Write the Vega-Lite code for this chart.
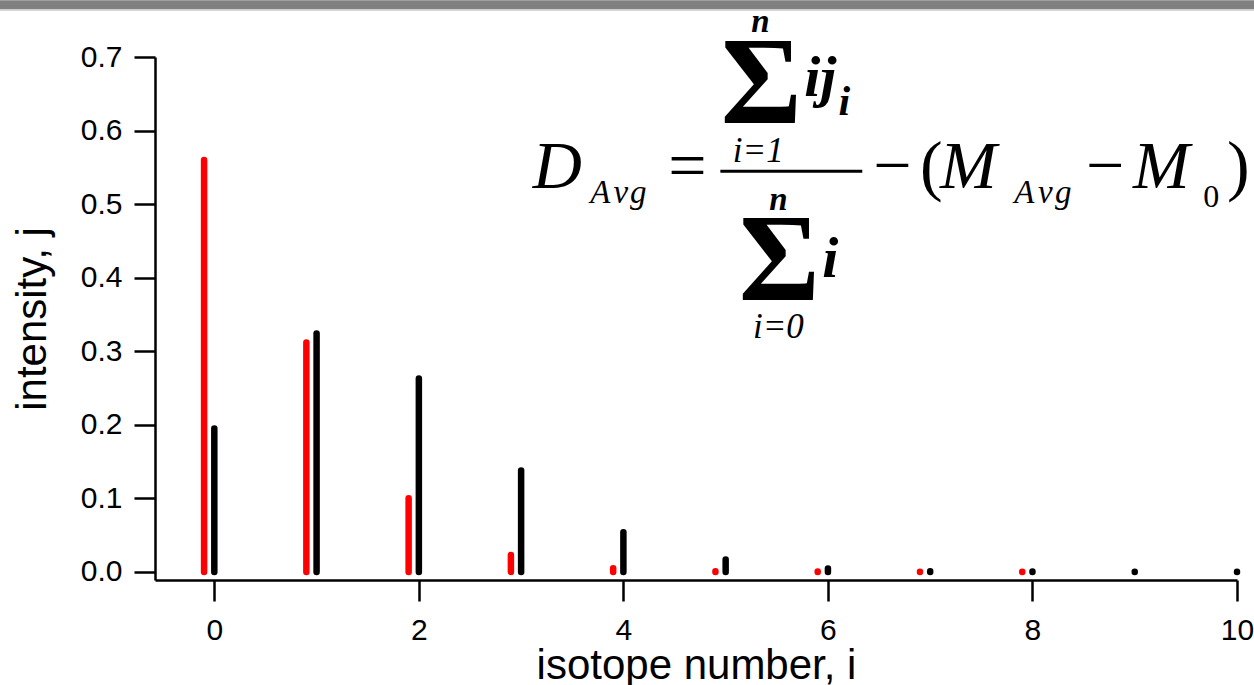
{
  "$schema": "https://vega.github.io/schema/vega-lite/v6.json",
  "width": 1082,
  "height": 523,
  "autosize": {"type": "none"},
  "padding": {"left": 155, "top": 57, "right": 17, "bottom": 105},
  "background": "white",
  "data": {"values": [{}]},
  "config": {
    "view": {"stroke": null},
    "axis": {
      "grid": false,
      "domainColor": "black",
      "domainWidth": 2.5,
      "tickColor": "black",
      "tickWidth": 2.5,
      "tickSize": 21,
      "labelFont": "Liberation Sans",
      "labelFontSize": 30,
      "labelColor": "black",
      "titleFont": "Liberation Sans",
      "titleFontSize": 42,
      "titleFontWeight": "normal",
      "titleColor": "black"
    }
  },
  "datasets": {
    "peaks": [
      {"series": "undeuterated", "x": -0.1, "j": 0.56},
      {"series": "undeuterated", "x": 0.9, "j": 0.312},
      {"series": "undeuterated", "x": 1.9, "j": 0.1},
      {"series": "undeuterated", "x": 2.9, "j": 0.023},
      {"series": "undeuterated", "x": 3.9, "j": 0.005},
      {"series": "undeuterated", "x": 4.9, "j": 0.001},
      {"series": "undeuterated", "x": 5.9, "j": 0.0005},
      {"series": "undeuterated", "x": 6.9, "j": 0.0003},
      {"series": "undeuterated", "x": 7.9, "j": 0.0002},
      {"series": "deuterated", "x": 0, "j": 0.195},
      {"series": "deuterated", "x": 1, "j": 0.324},
      {"series": "deuterated", "x": 2, "j": 0.263},
      {"series": "deuterated", "x": 3, "j": 0.138},
      {"series": "deuterated", "x": 4, "j": 0.054},
      {"series": "deuterated", "x": 5, "j": 0.017},
      {"series": "deuterated", "x": 6, "j": 0.0045},
      {"series": "deuterated", "x": 7, "j": 0.001},
      {"series": "deuterated", "x": 8, "j": 0.0005},
      {"series": "deuterated", "x": 9, "j": 0.0003},
      {"series": "deuterated", "x": 10, "j": 0.0002}
    ]
  },
  "layer": [
    {
      "data": {"name": "peaks"},
      "mark": {"type": "rule", "strokeWidth": 6.5, "strokeCap": "round"},
      "encoding": {
        "x": {
          "field": "x",
          "type": "quantitative",
          "scale": {"domain": [-0.58, 10], "nice": false, "zero": false},
          "axis": {"title": "isotope number, i", "values": [0, 2, 4, 6, 8, 10], "format": "d", "labelFlush": false, "labelPadding": 14, "titlePadding": 0}
        },
        "y": {
          "field": "j",
          "type": "quantitative",
          "scale": {"domain": [-0.011, 0.7], "nice": false, "zero": false},
          "axis": {"title": "intensity, j", "values": [0, 0.1, 0.2, 0.3, 0.4, 0.5, 0.6, 0.7], "format": ".1f", "labelPadding": 12, "titlePadding": 26}
        },
        "y2": {"datum": 0},
        "color": {
          "field": "series",
          "type": "nominal",
          "scale": {"domain": ["undeuterated", "deuterated"], "range": ["#ff0000", "#000000"]},
          "legend": null
        }
      }
    },
    {
      "mark": {"type": "rect", "color": "#808080"},
      "encoding": {
        "x": {"datum": -2.1, "type": "quantitative"},
        "x2": {"datum": 10.2},
        "y": {"datum": 0.7773, "type": "quantitative"},
        "y2": {"datum": 0.7650}
      }
    },
    {
      "mark": {"type": "rule", "color": "#c8c8c8", "strokeWidth": 1.5},
      "encoding": {
        "x": {"datum": -2.1, "type": "quantitative"},
        "x2": {"datum": 10.2},
        "y": {"datum": 0.7640, "type": "quantitative"}
      }
    },
    {
      "mark": {"type": "rule", "color": "black", "strokeWidth": 3},
      "encoding": {
        "x": {"datum": 4.948, "type": "quantitative"},
        "x2": {"datum": 6.336},
        "y": {"datum": 0.5446, "type": "quantitative"}
      }
    },
    {"mark": {"type": "text", "text": "D", "font": "Liberation Serif", "fontStyle": "italic", "fontSize": 68, "align": "center", "baseline": "alphabetic", "color": "black"},
     "encoding": {"x": {"datum": 3.354, "type": "quantitative"}, "y": {"datum": 0.5215, "type": "quantitative"}}},
    {"mark": {"type": "text", "text": "A", "font": "Liberation Serif", "fontStyle": "italic", "fontSize": 33, "align": "center", "baseline": "alphabetic", "color": "black"},
     "encoding": {"x": {"datum": 3.774, "type": "quantitative"}, "y": {"datum": 0.5011, "type": "quantitative"}}},
    {"mark": {"type": "text", "text": "v", "font": "Liberation Serif", "fontStyle": "italic", "fontSize": 33, "align": "center", "baseline": "alphabetic", "color": "black"},
     "encoding": {"x": {"datum": 3.975, "type": "quantitative"}, "y": {"datum": 0.5011, "type": "quantitative"}}},
    {"mark": {"type": "text", "text": "g", "font": "Liberation Serif", "fontStyle": "italic", "fontSize": 33, "align": "center", "baseline": "alphabetic", "color": "black"},
     "encoding": {"x": {"datum": 4.146, "type": "quantitative"}, "y": {"datum": 0.5011, "type": "quantitative"}}},
    {"mark": {"type": "text", "text": "=", "font": "Liberation Serif", "fontSize": 68, "align": "center", "baseline": "alphabetic", "color": "black"},
     "encoding": {"x": {"datum": 4.625, "type": "quantitative"}, "y": {"datum": 0.5215, "type": "quantitative"}}},
    {"mark": {"type": "text", "text": "n", "font": "Liberation Serif", "fontStyle": "italic", "fontWeight": "bold", "fontSize": 33, "align": "center", "baseline": "alphabetic", "color": "black"},
     "encoding": {"x": {"datum": 5.339, "type": "quantitative"}, "y": {"datum": 0.7338, "type": "quantitative"}}},
    {"mark": {"type": "text", "text": "Σ", "font": "Liberation Serif", "fontWeight": "bold", "fontSize": 124, "align": "center", "baseline": "alphabetic", "color": "black"},
     "encoding": {"x": {"datum": 5.349, "type": "quantitative"}, "y": {"datum": 0.6100, "type": "quantitative"}}},
    {"mark": {"type": "text", "text": "ij", "font": "Liberation Serif", "fontStyle": "italic", "fontWeight": "bold", "fontSize": 58, "align": "center", "baseline": "alphabetic", "color": "black"},
     "encoding": {"x": {"datum": 5.926, "type": "quantitative"}, "y": {"datum": 0.6467, "type": "quantitative"}}},
    {"mark": {"type": "text", "text": "i", "font": "Liberation Serif", "fontStyle": "italic", "fontWeight": "bold", "fontSize": 42, "align": "center", "baseline": "alphabetic", "color": "black"},
     "encoding": {"x": {"datum": 6.161, "type": "quantitative"}, "y": {"datum": 0.6208, "type": "quantitative"}}},
    {"mark": {"type": "text", "text": "i=1", "font": "Liberation Serif", "fontStyle": "italic", "fontSize": 35, "align": "center", "baseline": "alphabetic", "color": "black"},
     "encoding": {"x": {"datum": 5.319, "type": "quantitative"}, "y": {"datum": 0.5569, "type": "quantitative"}}},
    {"mark": {"type": "text", "text": "n", "font": "Liberation Serif", "fontStyle": "italic", "fontWeight": "bold", "fontSize": 33, "align": "center", "baseline": "alphabetic", "color": "black"},
     "encoding": {"x": {"datum": 5.515, "type": "quantitative"}, "y": {"datum": 0.4916, "type": "quantitative"}}},
    {"mark": {"type": "text", "text": "Σ", "font": "Liberation Serif", "fontWeight": "bold", "fontSize": 124, "align": "center", "baseline": "alphabetic", "color": "black"},
     "encoding": {"x": {"datum": 5.525, "type": "quantitative"}, "y": {"datum": 0.3691, "type": "quantitative"}}},
    {"mark": {"type": "text", "text": "i", "font": "Liberation Serif", "fontStyle": "italic", "fontWeight": "bold", "fontSize": 58, "align": "center", "baseline": "alphabetic", "color": "black"},
     "encoding": {"x": {"datum": 6.024, "type": "quantitative"}, "y": {"datum": 0.4004, "type": "quantitative"}}},
    {"mark": {"type": "text", "text": "i=0", "font": "Liberation Serif", "fontStyle": "italic", "fontSize": 35, "align": "center", "baseline": "alphabetic", "color": "black"},
     "encoding": {"x": {"datum": 5.515, "type": "quantitative"}, "y": {"datum": 0.3175, "type": "quantitative"}}},
    {"mark": {"type": "text", "text": "−", "font": "Liberation Serif", "fontSize": 68, "align": "center", "baseline": "alphabetic", "color": "black"},
     "encoding": {"x": {"datum": 6.630, "type": "quantitative"}, "y": {"datum": 0.5215, "type": "quantitative"}}},
    {"mark": {"type": "text", "text": "(", "font": "Liberation Serif", "fontSize": 68, "align": "center", "baseline": "alphabetic", "color": "black"},
     "encoding": {"x": {"datum": 7.011, "type": "quantitative"}, "y": {"datum": 0.5215, "type": "quantitative"}}},
    {"mark": {"type": "text", "text": "M", "font": "Liberation Serif", "fontStyle": "italic", "fontSize": 68, "align": "center", "baseline": "alphabetic", "color": "black"},
     "encoding": {"x": {"datum": 7.373, "type": "quantitative"}, "y": {"datum": 0.5215, "type": "quantitative"}}},
    {"mark": {"type": "text", "text": "A", "font": "Liberation Serif", "fontStyle": "italic", "fontSize": 33, "align": "center", "baseline": "alphabetic", "color": "black"},
     "encoding": {"x": {"datum": 7.921, "type": "quantitative"}, "y": {"datum": 0.5011, "type": "quantitative"}}},
    {"mark": {"type": "text", "text": "v", "font": "Liberation Serif", "fontStyle": "italic", "fontSize": 33, "align": "center", "baseline": "alphabetic", "color": "black"},
     "encoding": {"x": {"datum": 8.126, "type": "quantitative"}, "y": {"datum": 0.5011, "type": "quantitative"}}},
    {"mark": {"type": "text", "text": "g", "font": "Liberation Serif", "fontStyle": "italic", "fontSize": 33, "align": "center", "baseline": "alphabetic", "color": "black"},
     "encoding": {"x": {"datum": 8.302, "type": "quantitative"}, "y": {"datum": 0.5011, "type": "quantitative"}}},
    {"mark": {"type": "text", "text": "−", "font": "Liberation Serif", "fontSize": 68, "align": "center", "baseline": "alphabetic", "color": "black"},
     "encoding": {"x": {"datum": 8.712, "type": "quantitative"}, "y": {"datum": 0.5215, "type": "quantitative"}}},
    {"mark": {"type": "text", "text": "M", "font": "Liberation Serif", "fontStyle": "italic", "fontSize": 68, "align": "center", "baseline": "alphabetic", "color": "black"},
     "encoding": {"x": {"datum": 9.260, "type": "quantitative"}, "y": {"datum": 0.5215, "type": "quantitative"}}},
    {"mark": {"type": "text", "text": "0", "font": "Liberation Serif", "fontSize": 32, "align": "center", "baseline": "alphabetic", "color": "black"},
     "encoding": {"x": {"datum": 9.749, "type": "quantitative"}, "y": {"datum": 0.4956, "type": "quantitative"}}},
    {"mark": {"type": "text", "text": ")", "font": "Liberation Serif", "fontSize": 68, "align": "center", "baseline": "alphabetic", "color": "black"},
     "encoding": {"x": {"datum": 10.013, "type": "quantitative"}, "y": {"datum": 0.5215, "type": "quantitative"}}}
  ]
}
